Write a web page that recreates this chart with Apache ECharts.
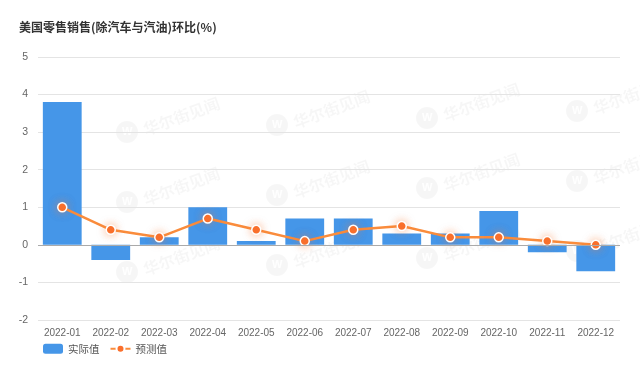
<!DOCTYPE html>
<html><head><meta charset="utf-8">
<script src="https://cdn.jsdelivr.net/npm/echarts@6/dist/echarts.min.js"></script>
<style>html,body{margin:0;padding:0;background:#fff}#c{width:640px;height:368px}</style>
</head><body><div id="c"></div>
<script>
var categories = ['2022-01','2022-02','2022-03','2022-04','2022-05','2022-06','2022-07','2022-08','2022-09','2022-10','2022-11','2022-12'];
var actual = [3.8, -0.4, 0.2, 1.0, 0.1, 0.7, 0.7, 0.3, 0.3, 0.9, -0.2, -0.7];
var forecast = [1.0, 0.4, 0.2, 0.7, 0.4, 0.1, 0.4, 0.5, 0.2, 0.2, 0.1, 0.0];
var yTicks = [-2, -1, 0, 1, 2, 3, 4, 5];

var wm = [];
var wmPos = [[127,132],[277,125],[427,118],[577,111],[127,202],[277,195],[427,188],[577,181],[127,272],[277,265],[427,258],[577,251]];
wmPos.forEach(function(p){
  wm.push({type:'group', x:p[0], y:p[1], silent:true, z:0, children:[
    {type:'circle', shape:{cx:0, cy:0, r:11}, style:{fill:'rgba(0,0,0,0.035)'}},
    {type:'text', x:-5, y:-6, style:{text:'W', fill:'rgba(255,255,255,0.9)', font:'bold 11px sans-serif'}},
    {type:'text', x:17, y:-2, rotation:Math.PI/9, style:{text:'华尔街见闻', fill:'rgba(0,0,0,0.035)', font:'bold 16px "Noto Sans CJK SC"', textVerticalAlign:'middle'}}
  ]});
});

var chart = echarts.init(document.getElementById('c'));
chart.setOption({
  animation:false,
  title:{text:'美国零售销售(除汽车与汽油)环比(%)', left:14, top:16, textStyle:{fontSize:12, fontWeight:'bold', color:'#333', fontFamily:'"Noto Sans CJK SC"'}},
  graphic: wm,
  legend:{left:38, bottom:9, itemGap:10, itemWidth:20, itemHeight:10, textStyle:{fontSize:10.5, color:'#555', fontFamily:'"Noto Sans CJK SC"'},
    data:[{name:'实际值', icon:'roundRect'},{name:'预测值'}]},
  grid:{left:38, right:20, top:57, bottom:48},
  xAxis:{type:'category', data:categories, axisTick:{show:false},
    axisLine:{show:false},
    axisLabel:{color:'#666', fontSize:10, margin:8, interval:0}},
  yAxis:{type:'value', min:yTicks[0], max:yTicks[yTicks.length-1], interval:1,
    axisLabel:{color:'#666', fontSize:10.5, margin:10},
    splitLine:{lineStyle:{color:'#e4e4e4'}}, axisLine:{show:false}, axisTick:{show:false}},
  series:[
    {name:'实际值', type:'bar', data:actual, barCategoryGap:'20%', itemStyle:{color:'#4596e8'},
     markLine:{silent:true, symbol:'none', label:{show:false}, lineStyle:{color:'#aaa', type:'solid', width:1}, data:[{yAxis:0}]}},
    {name:'预测值', type:'line', data:forecast, symbol:'circle', symbolSize:9, showAllSymbol:true,
     lineStyle:{color:'#fa8c3c', width:2.5},
     itemStyle:{color:'#fa6f2c', borderColor:'#fff', borderWidth:1.5, shadowColor:'rgba(250,120,50,0.5)', shadowBlur:8},
     z:3}
  ]
});
</script></body></html>
